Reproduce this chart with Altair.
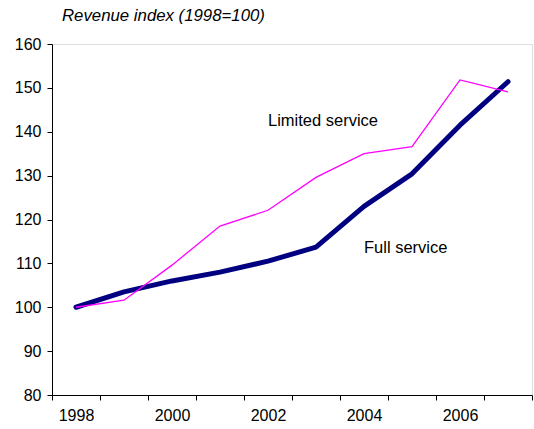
import altair as alt
import pandas as pd

years = ["1998", "1999", "2000", "2001", "2002", "2003", "2004", "2005", "2006", "2007"]
full_service = [100, 103.5, 106, 108, 110.5, 113.7, 123, 130.4, 141.5, 151.4]
limited_service = [100, 101.6, 109.6, 118.5, 122.1, 129.6, 135, 136.6, 151.8, 149.1]
series_names = ["Full service", "Limited service"]
series_colors = ["#000080", "#FF00FF"]
series_widths = [5, 1.3]
y_ticks = [80, 90, 100, 110, 120, 130, 140, 150, 160]
title_text = "Revenue index (1998=100)"
label_years = ["2004", "2002"]
label_values = [113.5, 142.5]

rows = []
for y, f, l in zip(years, full_service, limited_service):
    rows.append({"year": y, "value": f, "series": "Full service"})
    rows.append({"year": y, "value": l, "series": "Limited service"})
df = pd.DataFrame(rows)
lab_df = pd.DataFrame({"year": label_years, "value": label_values, "text": series_names})
title_df = pd.DataFrame({"t": [title_text]})

FONT = "Liberation Sans"

x_enc = alt.X(
    "year:O",
    bandPosition=0.5,
    sort=years,
    scale=alt.Scale(type="band", paddingInner=0, paddingOuter=0, domain=years),
    axis=alt.Axis(
        title=None, labelAngle=0, tickBand="extent", grid=False,
        labelExpr="toNumber(datum.value) % 2 == 0 ? datum.label : ''",
        domainColor="black", tickColor="black", tickSize=5,
        labelFont=FONT, labelFontSize=16, labelColor="black", labelPadding=7,
    ),
)
y_enc = alt.Y(
    "value:Q",
    scale=alt.Scale(domain=[80, 160], nice=False, zero=False),
    axis=alt.Axis(
        title=None, values=y_ticks, grid=False,
        domainColor="black", tickColor="black", tickSize=5,
        labelFont=FONT, labelFontSize=16, labelColor="black", labelPadding=6,
    ),
)

base = alt.Chart(df)
full = base.transform_filter(alt.datum.series == "Full service").mark_line(
    color=series_colors[0], strokeWidth=series_widths[0], strokeJoin="round", strokeCap="round"
).encode(x=x_enc, y=y_enc)
limited = base.transform_filter(alt.datum.series == "Limited service").mark_line(
    color=series_colors[1], strokeWidth=series_widths[1]
).encode(x=x_enc, y=y_enc)

labels = alt.Chart(lab_df).mark_text(
    align="left", baseline="middle", font=FONT, fontSize=16.5, color="black"
).encode(x=alt.X("year:O", bandPosition=0.5, sort=years), y="value:Q", text="text:N")

title = alt.Chart(title_df).mark_text(
    align="left", baseline="middle", font=FONT, fontSize=16.8, fontStyle="italic", color="black"
).encode(x=alt.value(10), y=alt.value(-28), text="t:N")

chart = alt.layer(full, limited, labels, title).properties(
    width=480, height=351,
    autosize=alt.AutoSizeParams(type="none"),
    padding={"left": 52, "top": 44, "right": 2, "bottom": 34},
).configure_view(stroke=None).configure(background="white")

chart.save("out.html", embed_options={"renderer": "svg", "actions": False})
